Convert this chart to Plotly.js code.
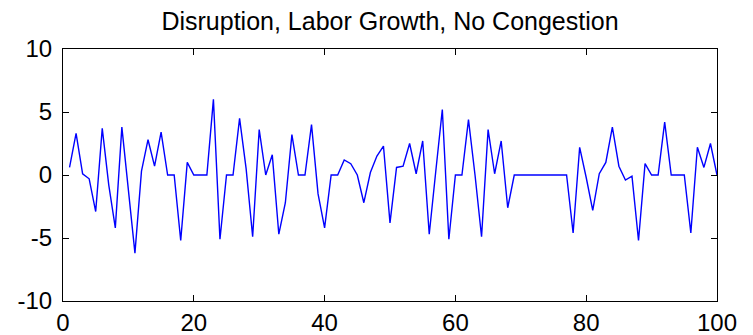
<!DOCTYPE html>
<html>
<head>
<meta charset="utf-8">
<script src="https://cdn.plot.ly/plotly-3.0.1.min.js"></script>
<style>html,body{margin:0;padding:0;background:#fff;}#chart{width:753px;height:335px;}</style>
</head>
<body>
<div id="chart"></div>
<script>
var periods = [];
for (var i = 1; i <= 100; i++) periods.push(i);
var values = [
  0.6, 3.3, 0.1, -0.3, -2.9, 3.7, -0.8, -4.2, 3.8, -1.2,
  -6.2, 0.3, 2.8, 0.7, 3.4, 0, 0, -5.2, 1.0, 0,
  0, 0, 6.0, -5.1, 0, 0, 4.5, 0.5, -4.9, 3.6,
  0, 1.6, -4.7, -2.2, 3.2, 0, 0, 4.0, -1.5, -4.2,
  0, 0, 1.2, 0.9, 0, -2.2, 0.2, 1.5, 2.3, -3.8,
  0.6, 0.7, 2.5, 0.1, 2.7, -4.7, 0.3, 5.2, -5.1, 0,
  0, 4.4, 0, -4.9, 3.6, 0.1, 2.7, -2.6, 0, 0,
  0, 0, 0, 0, 0, 0, 0, -4.6, 2.2, -0.2,
  -2.8, 0.1, 1.0, 3.8, 0.7, -0.4, -0.1, -5.2, 0.9, 0,
  0, 4.2, 0, 0, 0, -4.6, 2.2, 0.6, 2.5, 0
];
var xTicks = [0, 20, 40, 60, 80, 100];
var yTicks = [-10, -5, 0, 5, 10];
var chartTitle = "Disruption, Labor Growth, No Congestion";

var font = {family: "Liberation Sans, Arial, sans-serif", size: 24, color: "#000"};
var axisCommon = {
  showgrid: false, zeroline: false, showline: true, linecolor: "#000", linewidth: 1,
  mirror: "ticks", ticks: "inside", ticklen: 6, tickcolor: "#000", tickwidth: 1,
  tickfont: font
};
var layout = {
  width: 753, height: 335,
  margin: {l: 63, r: 36, t: 49, b: 34},
  paper_bgcolor: "#fff", plot_bgcolor: "#fff",
  showlegend: false,
  font: font,
  title: {text: chartTitle, font: {family: font.family, size: 25, color: "#000"},
          x: 0.5, xref: "paper", xanchor: "center", y: 1 - 12/335, yref: "container", yanchor: "top"},
  xaxis: Object.assign({}, axisCommon, {range: [0, 100], tickvals: xTicks, ticktext: xTicks.map(String)}),
  yaxis: Object.assign({}, axisCommon, {range: [-10, 10], tickvals: yTicks, ticktext: yTicks.map(String), ticklabelstandoff: 5})
};
var trace = {x: periods, y: values, type: "scatter", mode: "lines",
  line: {color: "#0000ff", width: 1.4}, hoverinfo: "skip"};
Plotly.newPlot("chart", [trace], layout, {staticPlot: true, displayModeBar: false});
</script>
</body>
</html>
